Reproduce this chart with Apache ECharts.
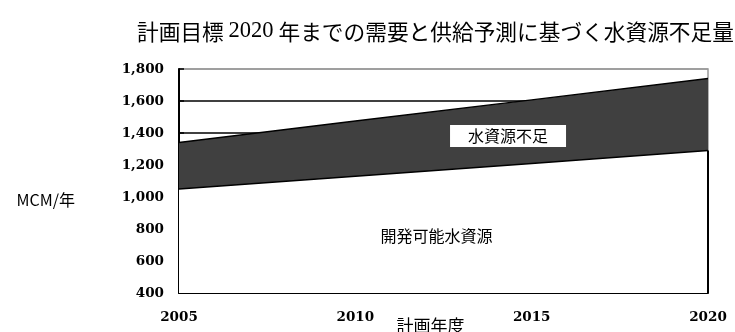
<!DOCTYPE html>
<html>
<head>
<meta charset="utf-8">
<script src="https://cdn.jsdelivr.net/npm/echarts@6/dist/echarts.min.js"></script>
<style>
  html, body { margin: 0; padding: 0; background: #fff; }
  #chart { width: 735px; height: 332px; }
</style>
</head>
<body>
<div id="chart"></div>
<script>
// Planning years and water volumes (MCM per year)
const years = [2005, 2010, 2015, 2020];
const supply = [1050, 1130, 1210, 1290];   // developable water resources
const demand = [1340, 1475, 1607, 1740];   // projected demand
const yTicks = [400, 600, 800, 1000, 1200, 1400, 1600, 1800];

const serif = '"DejaVu Serif", "Liberation Serif", serif';
const sans = '"Noto Sans CJK JP", "Noto Sans", sans-serif';

// Only the 1,400 / 1,600 gridlines are drawn; the top one is the grey frame
const gridColors = yTicks.map(v => v === 1400 || v === 1600 ? '#000' : (v === 1800 ? '#999' : 'rgba(0,0,0,0)'));

const chart = echarts.init(document.getElementById('chart'));
chart.setOption({
  animation: false,
  backgroundColor: '#fff',
  title: {
    left: 132,
    top: 15,
    text: '{a|計画目標 }{b|2020}{a| 年までの需要と供給予測に基づく水資源不足量}',
    textStyle: {
      rich: {
        a: { fontFamily: sans, fontSize: 21.7, fontWeight: 'normal', color: '#000' },
        b: { fontFamily: '"Liberation Serif", serif', fontSize: 22.5, fontWeight: 'normal', color: '#000' }
      }
    }
  },
  grid: {
    left: 179, right: 27, top: 69, bottom: 39,
    outerBoundsMode: 'none',
    containLabel: false,
    show: true, borderColor: '#999', borderWidth: 1.5
  },
  xAxis: {
    type: 'value',
    min: years[0], max: years[years.length - 1], interval: 5,
    name: '計画年度',
    nameLocation: 'middle',
    nameGap: 24,
    nameMoveOverlap: false,
    nameTextStyle: { fontFamily: sans, fontSize: 17, color: '#000', padding: [0, 26, 0, 0] },
    axisLine: { lineStyle: { color: '#000', width: 2 } },
    axisTick: { inside: true, length: 5, lineStyle: { color: '#000', width: 1.5 } },
    axisLabel: {
      margin: 17,
      fontFamily: serif, fontWeight: 'bold', fontSize: 13.5, color: '#000',
      formatter: v => String(v)
    },
    splitLine: { show: false }
  },
  yAxis: {
    type: 'value',
    min: yTicks[0], max: yTicks[yTicks.length - 1], interval: 200,
    name: '{u|MCM/年}',
    nameLocation: 'middle',
    nameRotate: 0,
    nameGap: 104,
    nameMoveOverlap: false,
    nameTextStyle: {
      rich: {
        u: { fontFamily: sans, fontSize: 16, color: '#000', lineHeight: 16, padding: [38, 0, 0, 0] }
      }
    },
    axisLine: { show: true, lineStyle: { color: '#000', width: 2 } },
    axisTick: { show: true, inside: true, length: 5, lineStyle: { color: '#000', width: 1.5 } },
    axisLabel: {
      margin: 15,
      fontFamily: serif, fontWeight: 'bold', fontSize: 13.5, color: '#000',
      formatter: v => v.toLocaleString('en-US')
    },
    splitLine: { show: true, lineStyle: { color: gridColors, width: 1.5 } }
  },
  series: [
    {
      // Demand filled dark down to the axis; supply (white) is laid over it,
      // leaving the shortfall band visible between the two lines
      name: '水資源不足',
      type: 'line',
      symbol: 'none',
      data: years.map((y, i) => [y, demand[i]]),
      lineStyle: { color: '#000', width: 1.5 },
      areaStyle: { color: '#404040', opacity: 1, origin: 'start' },
      markPoint: {
        silent: true,
        symbol: 'rect',
        symbolSize: 0,
        data: [{ coord: [2014.33, 1381], value: '水資源不足' }],
        label: {
          show: true, position: 'inside',
          formatter: '{c}',
          fontFamily: sans, fontSize: 16, color: '#000',
          backgroundColor: '#fff', padding: [3, 18, 3, 18]
        }
      },
      z: 2
    },
    {
      name: '開発可能水資源',
      type: 'line',
      symbol: 'none',
      data: years.map((y, i) => [y, supply[i]]),
      lineStyle: { color: '#000', width: 1.5 },
      areaStyle: { color: '#fff', opacity: 1, origin: 'start' },
      markLine: {
        silent: true,
        symbol: 'none',
        label: { show: false },
        lineStyle: { color: '#000', width: 2, type: 'solid' },
        data: [[{ coord: [years[3], yTicks[0]] }, { coord: [years[3], supply[3]] }]]
      },
      markPoint: {
        silent: true,
        symbol: 'rect',
        symbolSize: 0,
        data: [{ coord: [2012.3, 756], value: '開発可能水資源' }],
        label: {
          show: true, position: 'inside',
          formatter: '{c}',
          fontFamily: sans, fontSize: 16, color: '#000'
        }
      },
      z: 3
    }
  ]
});
</script>
</body>
</html>
